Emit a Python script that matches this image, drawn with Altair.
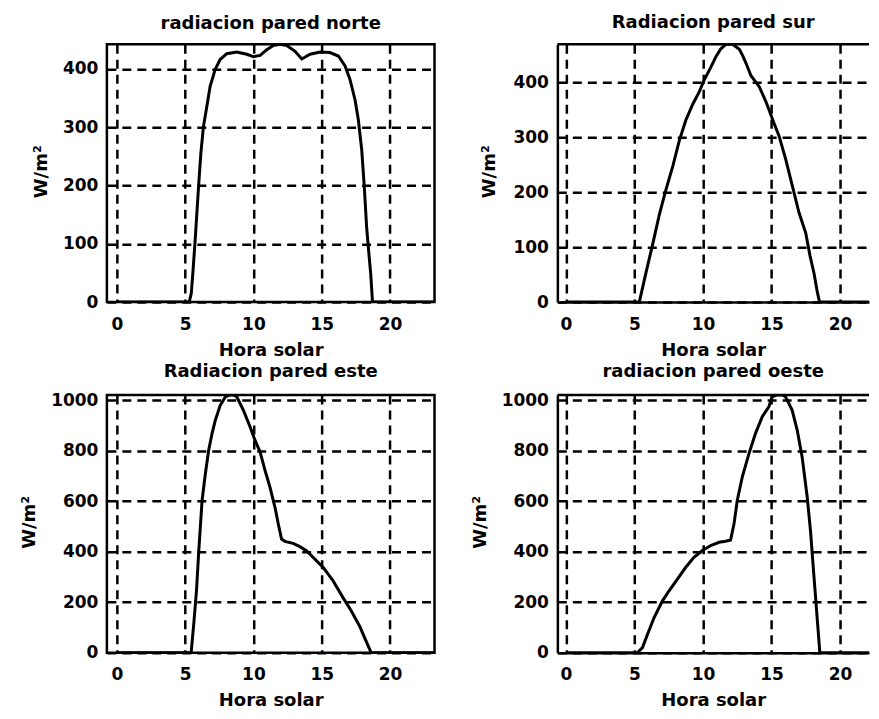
import altair as alt
import pandas as pd

# ---- data (hora solar, W/m2) ----
hora_norte = [0, 5.3, 5.45, 5.56, 5.73, 5.98, 6.15, 6.34, 6.59, 6.83, 7.2, 7.56, 8.05, 8.78,
              9.51, 10.0, 10.49, 10.98, 11.46, 11.95, 12.44, 13.05, 13.54, 14.15, 14.88,
              15.6, 16.22, 16.71, 17.07, 17.44, 17.68, 17.93, 18.12, 18.29, 18.46, 18.59,
              18.72, 24]
rad_norte = [0, 0, 15, 48, 105, 197, 255, 301, 336, 370, 399, 416, 426, 429,
             425, 421, 423, 433, 440, 442, 440, 430, 417, 425, 429,
             428, 422, 405, 382, 347, 313, 261, 197, 128, 82, 48,
             0, 0]

hora_sur = [0, 5.35, 5.85, 6.33, 6.82, 7.3, 7.8, 8.28, 8.76, 9.25, 9.73, 10.1, 10.58,
            10.95, 11.3, 11.67, 12.16, 12.65, 12.9, 13.13, 13.5, 14.1, 14.6, 15.06,
            15.55, 16.03, 16.52, 17.0, 17.49, 17.8, 18.1, 18.34, 18.5, 24]
rad_sur = [0, 0, 55, 106, 160, 205, 248, 295, 332, 360, 383, 405, 428,
           447, 461, 469, 469, 460, 448, 435, 412, 392, 364, 333,
           302, 260, 211, 163, 126, 85, 52, 18, 0, 0]

hora_este = [0, 5.44, 5.63, 5.83, 6.0, 6.24, 6.48, 6.72, 6.97, 7.21, 7.57, 7.94, 8.3, 8.6,
             8.79, 9.27, 9.76, 10.12, 10.49, 10.85, 11.21, 11.58, 11.82, 12.06, 12.3,
             12.91, 13.4, 13.88, 14.49, 15.1, 15.83, 16.55, 17.16, 17.77, 18.25, 18.62, 24]
rad_este = [0, 0, 113, 245, 404, 603, 709, 801, 868, 921, 980, 1013, 1021, 1021,
            1013, 960, 894, 841, 795, 722, 656, 576, 510, 450, 441,
            433, 420, 404, 371, 338, 285, 219, 166, 106, 46, 0, 0]

hora_oeste = [0, 5.22, 5.58, 5.95, 6.43, 7.04, 7.52, 8.13, 8.74, 9.34, 9.95, 10.56, 11.17,
              11.65, 12.01, 12.26, 12.5, 12.86, 13.35, 13.83, 14.32, 14.81, 15.05, 15.4,
              15.8, 16.02, 16.5, 16.87, 17.23, 17.6, 17.84, 18.08, 18.25, 18.4, 18.52, 24]
rad_oeste = [0, 0, 20, 73, 139, 205, 245, 291, 338, 377, 404, 424, 437,
             441, 446, 510, 603, 695, 788, 868, 934, 974, 1013, 1020,
             1020, 1013, 960, 881, 775, 616, 483, 311, 192, 86, 0, 0]

titles = ["radiacion pared norte", "Radiacion pared sur",
          "Radiacion pared este", "radiacion pared oeste"]
x_ticks = [0, 5, 10, 15, 20]
y_ticks_top = [0, 100, 200, 300, 400]
y_ticks_bottom = [0, 200, 400, 600, 800, 1000]

FONT = "DejaVu Sans"
FS_TITLE = 18
FS_LABEL = 17
H = 258


def panel(hours, vals, title, ymax, yticks, width, xdom, ytitle_x, title_offset, right_side):
    df = pd.DataFrame({"hora": hours, "rad": vals})
    common = dict(grid=True, ticks=False, gridColor="black", gridOpacity=1, gridWidth=2.5,
                  gridDash=[9, 6], labelColor="black", labelFont=FONT, labelFontSize=FS_LABEL,
                  labelFontWeight="bold", titleColor="black", titleFont=FONT,
                  titleFontSize=FS_TITLE, titleFontWeight="bold", domain=right_side,
                  domainColor="black", domainWidth=2.5)
    x = alt.X("hora:Q", scale=alt.Scale(domain=xdom, nice=False, zero=False),
              axis=alt.Axis(values=x_ticks, title="Hora solar", labelPadding=27,
                            labelBaseline="alphabetic", titleX=width / 2, titleY=53,
                            titleAlign="center", titleBaseline="alphabetic", titleAngle=0,
                            **common))
    y = alt.Y("rad:Q", scale=alt.Scale(domain=[0, ymax], nice=False, zero=True),
              axis=alt.Axis(values=yticks, title="W/m²", labelPadding=9, format="d",
                            labelBaseline="middle", titleX=ytitle_x, titleY=H / 2 - 2,
                            titleAngle=270, titleAlign="center",
                            titleBaseline="alphabetic", **common))
    line = alt.Chart(df).mark_line(color="black", strokeWidth=3, clip=True).encode(x=x, y=y)
    layers = [line]
    if right_side:
        top = alt.Chart(pd.DataFrame({"hora": [xdom[0]], "rad": [ymax]})).mark_rule(
            color="black", strokeWidth=2.5).encode(y=y)
        layers.append(top)
        view = alt.ViewBackground(stroke="transparent", fill="white")
    else:
        view = alt.ViewBackground(stroke="black", strokeWidth=2.5, fill="white")
    return alt.layer(*layers).properties(
        width=width, height=H, view=view,
        title=alt.TitleParams(title, font=FONT, fontSize=FS_TITLE, fontWeight="bold",
                              color="black", offset=title_offset, baseline="alphabetic",
                              frame="group", anchor="middle"))


left_dom = [-0.73, 23.26]
right_dom = [-0.63, 22.11]

tl = panel(hora_norte, rad_norte, titles[0], 442, y_ticks_top, 328, left_dom, -60, -3, False)
tr = panel(hora_sur, rad_sur, titles[1], 469, y_ticks_top, 312, right_dom, -63, -3, True)
bl = panel(hora_este, rad_este, titles[2], 1021, y_ticks_bottom, 328, left_dom, -72, -4, False)
br = panel(hora_oeste, rad_oeste, titles[3], 1020, y_ticks_bottom, 312, right_dom, -72, -4, True)

chart = alt.concat(tl, tr, bl, br, columns=2, spacing={"row": 93, "column": 123},
                   bounds="flush").properties(
    padding={"left": 11, "top": 5, "right": 0, "bottom": 0},
    background="white",
)

chart.save("out.html", embed_options={"renderer": "svg", "actions": False})
